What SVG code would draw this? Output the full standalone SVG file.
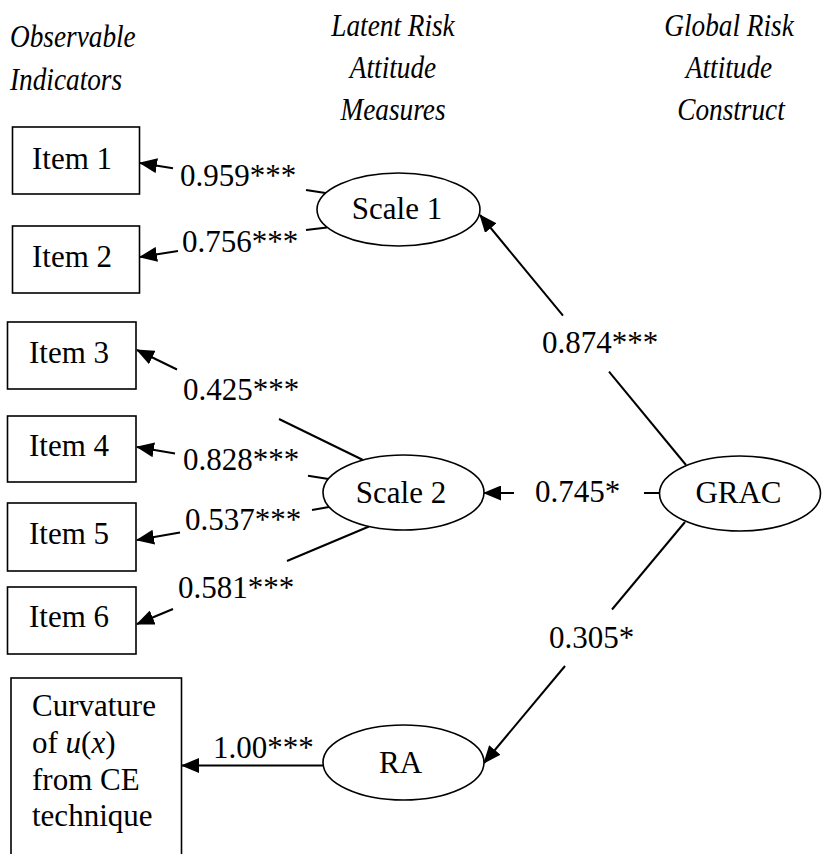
<svg xmlns="http://www.w3.org/2000/svg" width="822" height="854" viewBox="0 0 822 854">
<defs>
<marker id="ah" markerUnits="userSpaceOnUse" markerWidth="18" markerHeight="15" viewBox="0 0 18 15" refX="17" refY="7.5" orient="auto">
<path d="M0,0 L18,7.5 L0,15 z" fill="#000"/>
</marker>
</defs>
<style>
text{font-family:"Liberation Serif","Times New Roman",serif;fill:#000}
.h{font-size:31px;font-style:italic}
.t{font-size:31px}
.lbl{font-size:31px}
.box{fill:#fff;stroke:#000;stroke-width:1.6}
.ell{fill:#fff;stroke:#000;stroke-width:1.6}
.c{fill:none;stroke:#000;stroke-width:2}
.a{marker-end:url(#ah)}
</style>
<rect width="822" height="854" fill="#fff"/>
<g id="headings">
<text class="h" transform="translate(10,47) scale(0.88,1)">Observable</text>
<text class="h" transform="translate(10,90) scale(0.88,1)">Indicators</text>
<text class="h" transform="translate(393,36) scale(0.88,1)" text-anchor="middle">Latent Risk</text>
<text class="h" transform="translate(393,78) scale(0.88,1)" text-anchor="middle">Attitude</text>
<text class="h" transform="translate(393,120) scale(0.88,1)" text-anchor="middle">Measures</text>
<text class="h" transform="translate(729,36) scale(0.88,1)" text-anchor="middle">Global Risk</text>
<text class="h" transform="translate(729,78) scale(0.88,1)" text-anchor="middle">Attitude</text>
<text class="h" transform="translate(731,120) scale(0.88,1)" text-anchor="middle">Construct</text>
</g>
<g id="connectors">
<path class="c a" d="M173,168.3 L140,163"/>
<path class="c" d="M306,189.9 L325.5,193"/>
<path class="c a" d="M178,251 L140,257"/>
<path class="c" d="M306,230 L327,227.5"/>
<path class="c a" d="M177,369.5 L137,350"/>
<path class="c" d="M279,419 L363,460"/>
<path class="c a" d="M175,453.4 L137,447"/>
<path class="c" d="M308,475.7 L328.5,479"/>
<path class="c a" d="M180,532.6 L137,540"/>
<path class="c" d="M312,510 L329,507"/>
<path class="c a" d="M173,609 L137,624"/>
<path class="c" d="M287,561 L369,526.5"/>
<path class="c a" d="M323.5,765.5 L182,765.5"/>
<path class="c a" d="M563,315.7 L480,215"/>
<path class="c" d="M609,371.6 L686,465"/>
<path class="c a" d="M514,493 L484,493"/>
<path class="c" d="M644,493 L659.5,493"/>
<path class="c a" d="M565,666 L484,763"/>
<path class="c" d="M612,609.5 L685,522"/>
<g id="labels">
<text class="lbl" x="180" y="186">0.959***</text>
<text class="lbl" x="182" y="252">0.756***</text>
<text class="lbl" x="183" y="400">0.425***</text>
<text class="lbl" x="183" y="470">0.828***</text>
<text class="lbl" x="185" y="530">0.537***</text>
<text class="lbl" x="178" y="598">0.581***</text>
<text class="lbl" x="213" y="758">1.00***</text>
<text class="lbl" x="542" y="353">0.874***</text>
<text class="lbl" x="535" y="502">0.745*</text>
<text class="lbl" x="549" y="648">0.305*</text>
</g>
</g>
<g id="item1"><rect class="box" x="12.5" y="127" width="127" height="67"/><text class="t" x="32" y="169">Item 1</text></g>
<g id="item2"><rect class="box" x="12.5" y="226" width="127" height="67"/><text class="t" x="32" y="267">Item 2</text></g>
<g id="item3"><rect class="box" x="7.5" y="322" width="128.5" height="67"/><text class="t" x="29" y="363">Item 3</text></g>
<g id="item4"><rect class="box" x="7.5" y="416" width="128.5" height="66"/><text class="t" x="29" y="456">Item 4</text></g>
<g id="item5"><rect class="box" x="7.5" y="503" width="128.5" height="68"/><text class="t" x="29" y="544">Item 5</text></g>
<g id="item6"><rect class="box" x="7.5" y="587" width="128.5" height="67"/><text class="t" x="29" y="627">Item 6</text></g>
<g id="curvature"><rect class="box" x="11" y="678" width="170.5" height="190"/>
<text class="t" x="32" y="716">Curvature</text>
<text class="t" x="32" y="753">of <tspan font-style="italic">u</tspan>(<tspan font-style="italic">x</tspan>)</text>
<text class="t" x="32" y="790">from CE</text>
<text class="t" x="32" y="826">technique</text>
</g>
<g id="scale1"><ellipse class="ell" cx="398.5" cy="209.5" rx="81.5" ry="36.5"/><text class="t" x="397" y="219" text-anchor="middle">Scale 1</text></g>
<g id="scale2"><ellipse class="ell" cx="403.5" cy="492.5" rx="80.5" ry="37.5"/><text class="t" x="401" y="503" text-anchor="middle">Scale 2</text></g>
<g id="grac"><ellipse class="ell" cx="740" cy="493.5" rx="80.5" ry="37.5"/><text class="t" x="738.5" y="503" text-anchor="middle">GRAC</text></g>
<g id="ra"><ellipse class="ell" cx="403.5" cy="762.5" rx="80.5" ry="37.5"/><text class="t" x="400.5" y="773" text-anchor="middle">RA</text></g>
</svg>
